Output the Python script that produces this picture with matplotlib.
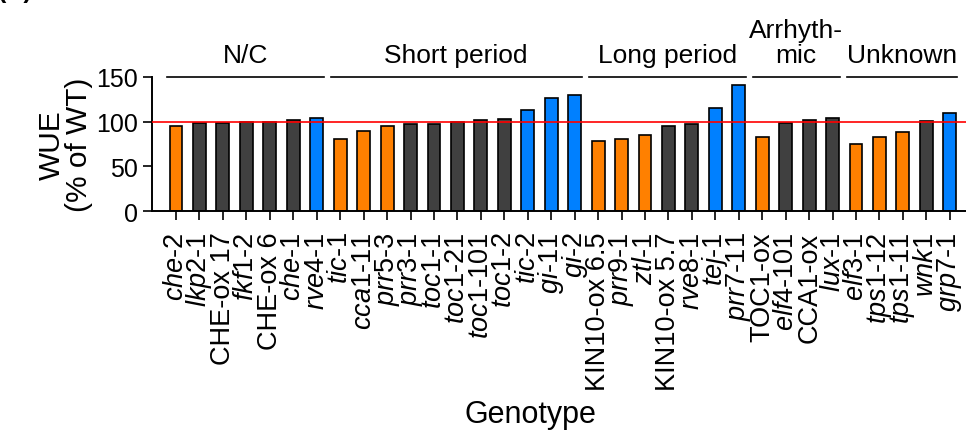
import matplotlib
matplotlib.use("Agg")
import matplotlib.pyplot as plt

plt.rcParams['font.family'] = ['Liberation Sans', 'DejaVu Sans']
plt.rcParams['mathtext.fontset'] = 'custom'
plt.rcParams['mathtext.rm'] = 'Liberation Sans'
plt.rcParams['mathtext.it'] = 'Liberation Sans:italic'

# Genotypes in plot order (gene names in italic)
genotypes = [r"$\mathit{che}$-2", r"$\mathit{lkp2}$-1", "CHE-ox 17", r"$\mathit{fkf1}$-2",
             "CHE-ox 6", r"$\mathit{che}$-1", r"$\mathit{rve4}$-1",
             r"$\mathit{tic}$-1", r"$\mathit{cca1}$-11", r"$\mathit{prr5}$-3", r"$\mathit{prr3}$-1",
             r"$\mathit{toc1}$-1", r"$\mathit{toc1}$-21", r"$\mathit{toc1}$-101", r"$\mathit{toc1}$-2",
             r"$\mathit{tic}$-2", r"$\mathit{gi}$-11", r"$\mathit{gi}$-2",
             "KIN10-ox 6.5", r"$\mathit{prr9}$-1", r"$\mathit{ztl}$-1", "KIN10-ox 5.7",
             r"$\mathit{rve8}$-1", r"$\mathit{tej}$-1", r"$\mathit{prr7}$-11",
             "TOC1-ox", r"$\mathit{elf4}$-101", "CCA1-ox", r"$\mathit{lux}$-1",
             r"$\mathit{elf3}$-1", r"$\mathit{tps1}$-12", r"$\mathit{tps1}$-11",
             r"$\mathit{wnk1}$", r"$\mathit{grp7}$-1"]

# WUE as % of wild type
wue = [95, 98, 98, 99, 100, 102, 104,
       80, 89, 95, 97, 97, 100, 102, 103, 113, 126, 130,
       78, 81, 85, 95, 97, 115, 141,
       83, 98, 102, 104,
       75, 83, 88, 101, 109]

# lower / not different / higher than WT
effect = ["lo", "ns", "ns", "ns", "ns", "ns", "hi",
          "lo", "lo", "lo", "ns", "ns", "ns", "ns", "ns", "hi", "hi", "hi",
          "lo", "lo", "lo", "ns", "ns", "hi", "hi",
          "lo", "ns", "ns", "ns",
          "lo", "lo", "lo", "ns", "hi"]

groups = ["N/C", "Short period", "Long period", "Arrhyth-\nmic", "Unknown"]
group_sizes = [7, 11, 7, 4, 5]

colors = {"lo": "#FF8000", "ns": "#404040", "hi": "#0080FF"}

fig = plt.figure(figsize=(9.66, 4.35), dpi=100)
ax = fig.add_axes([0.1577, 0.512, 1 - 0.1577, 0.8214 - 0.512])

x = list(range(len(wue)))
ax.bar(x, wue, width=0.55, color=[colors[e] for e in effect],
       edgecolor="black", linewidth=1.2, zorder=2)
ax.axhline(100, color="red", linewidth=1.2, zorder=3)

ax.set_xlim(-1.01, 33.69)
ax.set_ylim(0, 150)
ax.set_yticks([0, 50, 100, 150])
ax.set_xticks(x)
ax.set_xticklabels(genotypes, rotation=90, fontsize=19.5)
ax.tick_params(axis="y", labelsize=18, length=6.5, width=1.2, pad=4)
ax.tick_params(axis="x", length=6.5, width=1.2, pad=8)
for side in ["top", "right"]:
    ax.spines[side].set_visible(False)
for side in ["left", "bottom"]:
    ax.spines[side].set_linewidth(1.4)

ax.set_ylabel("WUE\n(% of WT)", fontsize=21.5, linespacing=0.95, labelpad=2)
fig.text(530 / 966, 1 - 415 / 435, "Genotype", fontsize=22, ha="center", va="center")

# group lines and labels above the bars
start = 0
for name, n in zip(groups, group_sizes):
    lo = start - 0.4
    hi = start + n - 1 + 0.3
    ax.plot([lo, hi], [150, 150], color="black", linewidth=1.2, clip_on=False)
    ax.annotate(name, xy=((lo + hi) / 2, 150), xytext=(0, 10.5), textcoords="offset points",
                ha="center", va="baseline", fontsize=19, linespacing=1.08,
                annotation_clip=False)
    start += n

fig.text(-0.002, 1 + 2 / 435, "(B)", fontsize=18, fontweight="bold", va="baseline")

fig.savefig("out.png", dpi=100)
